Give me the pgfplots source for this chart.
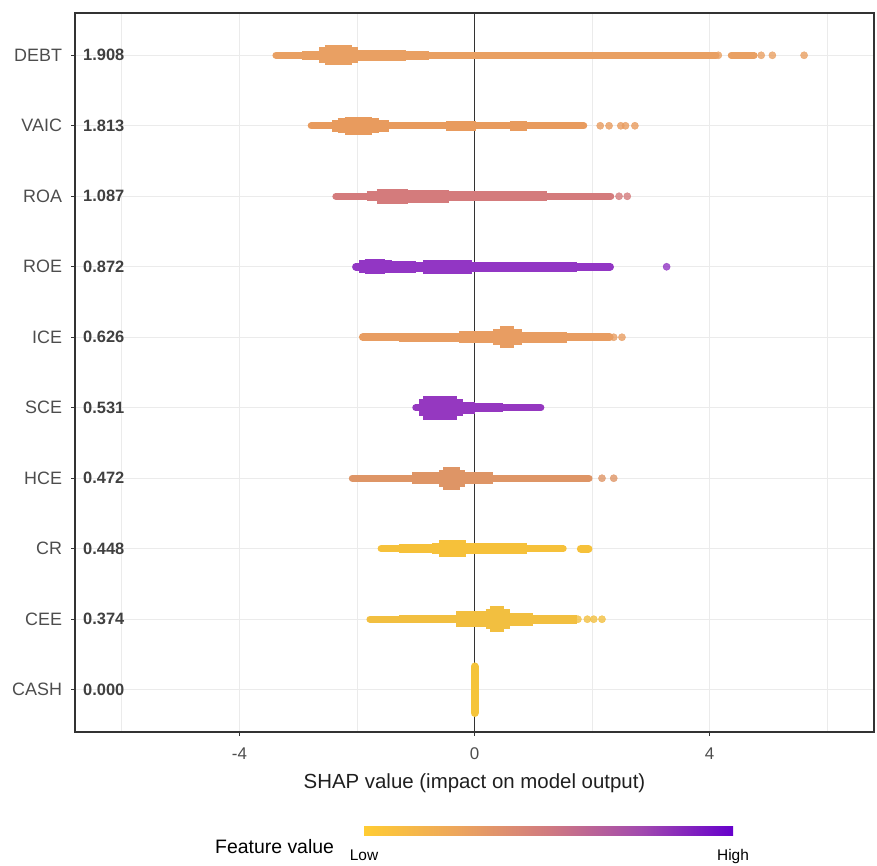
\documentclass[border=0pt]{standalone}
\usepackage{pgfplots}
\pgfplotsset{compat=1.18}
\usepackage{fontspec}
\setmainfont{Liberation Sans}

\definecolor{cDEBT}{HTML}{E9A063}
\definecolor{cVAIC}{HTML}{E89B5E}
\definecolor{cROA}{HTML}{D47B7C}
\definecolor{cROE}{HTML}{9236C4}
\definecolor{cICE}{HTML}{E89D62}
\definecolor{cSCE}{HTML}{9538C0}
\definecolor{cHCE}{HTML}{DE9566}
\definecolor{cCR}{HTML}{F6C13A}
\definecolor{cCEE}{HTML}{F2BF40}
\definecolor{cCASH}{HTML}{F5C43A}
\definecolor{txt}{HTML}{4D4D4D}
\definecolor{txtb}{HTML}{404040}
\definecolor{gridc}{HTML}{EBEBEB}
\definecolor{framec}{HTML}{333333}
\definecolor{lowc}{HTML}{FFCC33}
\definecolor{q1c}{HTML}{EDA65C}
\definecolor{midc}{HTML}{D07A80}
\definecolor{q3c}{HTML}{A24AAE}
\definecolor{highc}{HTML}{6600CC}

% visible part of a TikZ shading is 25bp..75bp
\pgfdeclarehorizontalshading{shapbar}{100bp}{color(0bp)=(lowc); color(25bp)=(lowc); color(37.5bp)=(q1c); color(50bp)=(midc); color(62.5bp)=(q3c); color(75bp)=(highc); color(100bp)=(highc)}

% \band{color}{y}{x1}{x2}{width}: round caps ; \blob: butt caps
\newcommand{\band}[5]{\addplot[draw=#1, line width=#5bp, line cap=round, forget plot] coordinates {(#3,#2) (#4,#2)};}
\newcommand{\blob}[5]{\addplot[draw=#1, line width=#5bp, line cap=butt, forget plot] coordinates {(#3,#2) (#4,#2)};}
\newcommand{\pts}[2]{\addplot[only marks, mark=*, mark size=3.6bp, mark options={draw=#1, fill=#1, opacity=0.8}, forget plot] coordinates {#2};}

\begin{document}
\begin{tikzpicture}
\useasboundingbox (-75bp,-134bp) rectangle (802bp,732bp);
\begin{axis}[
  at={(0,0)}, anchor=south west, scale only axis,
  width=799bp, height=719bp,
  xmin=-6.8, xmax=6.8, ymin=0.4, ymax=10.6,
  axis line style={draw=framec, line width=1.1bp},
  xtick={-4,0,4}, xticklabels={-4,0,4},
  minor xtick={-6,-2,2,6},
  ytick={1,...,10},
  yticklabels={CASH,CEE,CR,HCE,SCE,ICE,ROE,ROA,VAIC,DEBT},
  grid=both,
  major grid style={draw=gridc, line width=1bp},
  minor grid style={draw=gridc, line width=1bp},
  tick align=outside, tick pos=left,
  major tick length=3.5bp, minor tick length=0pt,
  tick style={draw=framec, line width=1bp},
  xticklabel style={font=\fontsize{17}{20}\selectfont, text=txt, yshift=-9bp},
  yticklabel style={font=\fontsize{18}{21}\selectfont, text=txt, xshift=-6bp},
  xlabel={SHAP value (impact on model output)},
  xlabel style={font=\fontsize{20.5}{24}\selectfont, text=black!88, at={(axis description cs:0.5,0)}, anchor=center, yshift=-51bp},
]
% zero line
\addplot[draw=black!80, line width=1.2bp, forget plot] coordinates {(0,0.4) (0,10.6)};

% DEBT
\band{cDEBT}{10}{-3.38}{4.11}{7}
\blob{cDEBT}{10}{-2.93}{-2.55}{9}
\blob{cDEBT}{10}{-2.64}{-1.99}{16}
\blob{cDEBT}{10}{-2.54}{-2.08}{20}
\blob{cDEBT}{10}{-1.99}{-1.16}{11}
\blob{cDEBT}{10}{-1.16}{-0.77}{9}
\band{cDEBT}{10}{4.37}{4.76}{7}
\pts{cDEBT}{(4.15,10) (4.88,10) (5.07,10) (5.61,10)}

% VAIC
\band{cVAIC}{9}{-2.78}{1.86}{7}
\blob{cVAIC}{9}{-2.42}{-1.45}{12}
\blob{cVAIC}{9}{-2.33}{-1.62}{15}
\blob{cVAIC}{9}{-2.21}{-1.75}{18}
\blob{cVAIC}{9}{-0.48}{0.03}{10}
\blob{cVAIC}{9}{0.60}{0.89}{9.5}
\pts{cVAIC}{(2.14,9) (2.29,9) (2.49,9) (2.57,9) (2.73,9)}

% ROA
\band{cROA}{8}{-2.36}{2.32}{7}
\blob{cROA}{8}{-1.83}{-1.66}{10}
\blob{cROA}{8}{-1.66}{-1.14}{15}
\blob{cROA}{8}{-1.14}{-0.43}{12.5}
\blob{cROA}{8}{-0.43}{1.23}{10}
\pts{cROA}{(2.46,8) (2.60,8)}

% ROE
\band{cROE}{7}{-2.02}{2.31}{7.5}
\blob{cROE}{7}{-1.96}{-1.41}{13}
\blob{cROE}{7}{-1.87}{-1.52}{15}
\blob{cROE}{7}{-1.48}{-0.99}{11.5}
\blob{cROE}{7}{-0.99}{-0.87}{10}
\blob{cROE}{7}{-0.87}{-0.05}{13.5}
\blob{cROE}{7}{-0.05}{1.74}{9.5}
\pts{cROE}{(3.27,7)}

% ICE
\band{cICE}{6}{-1.90}{2.30}{8}
\blob{cICE}{6}{-1.28}{-0.26}{9.5}
\blob{cICE}{6}{-0.26}{0.39}{12}
\blob{cICE}{6}{0.32}{0.80}{16}
\blob{cICE}{6}{0.43}{0.68}{22}
\blob{cICE}{6}{0.80}{1.57}{11}
\pts{cICE}{(2.37,6) (2.51,6)}

% SCE
\band{cSCE}{5}{-1.00}{1.13}{7}
\blob{cSCE}{5}{-0.94}{-0.19}{17}
\blob{cSCE}{5}{-0.87}{-0.29}{24}
\blob{cSCE}{5}{-0.19}{0.0}{12}
\blob{cSCE}{5}{0.0}{0.48}{9}

% HCE
\band{cHCE}{4}{-2.08}{1.95}{7}
\blob{cHCE}{4}{-1.06}{-0.51}{12.5}
\blob{cHCE}{4}{-0.60}{-0.17}{17}
\blob{cHCE}{4}{-0.53}{-0.24}{23}
\blob{cHCE}{4}{-0.17}{0.31}{12.5}
\pts{cHCE}{(2.17,4) (2.37,4)}

% CR
\band{cCR}{3}{-1.59}{1.51}{7}
\blob{cCR}{3}{-1.28}{-0.60}{9}
\blob{cCR}{3}{-0.72}{-0.51}{11}
\blob{cCR}{3}{-0.60}{-0.14}{17}
\blob{cCR}{3}{-0.14}{0.89}{10.5}
\band{cCR}{3}{1.81}{1.94}{8}

% CEE
\band{cCEE}{2}{-1.78}{1.68}{7}
\blob{cCEE}{2}{-1.28}{-0.31}{8.5}
\blob{cCEE}{2}{-0.31}{0.20}{16}
\blob{cCEE}{2}{0.19}{0.60}{20}
\blob{cCEE}{2}{0.26}{0.51}{26}
\blob{cCEE}{2}{0.51}{0.99}{13}
\blob{cCEE}{2}{0.99}{1.74}{9}
\pts{cCEE}{(1.76,2) (1.92,2) (2.03,2) (2.17,2)}

% CASH
\addplot[draw=cCASH, line width=8bp, line cap=round, forget plot] coordinates {(0,0.67) (0,1.33)};

% importance values
\foreach \yy/\vv in {10/1.908, 9/1.813, 8/1.087, 7/0.872, 6/0.626, 5/0.531, 4/0.472, 3/0.448, 2/0.374, 1/0.000}{
  \edef\temp{\noexpand\node[anchor=west, inner sep=0pt, xshift=8bp, text=txtb, font=\noexpand\bfseries\noexpand\fontsize{16.5}{19}\noexpand\selectfont] at (axis cs:-6.8,\yy) {\vv};}
  \temp
}
\end{axis}
% colour bar legend
\shade[shading=shapbar] (289bp,-103.5bp) rectangle (658bp,-94.5bp);
\node[anchor=base west, inner sep=0pt, font=\fontsize{19.5}{22}\selectfont] at (140bp,-121bp) {Feature value};
\node[anchor=base, inner sep=0pt, font=\fontsize{15.5}{18}\selectfont] at (289bp,-128bp) {Low};
\node[anchor=base, inner sep=0pt, font=\fontsize{15.5}{18}\selectfont] at (658bp,-128bp) {High};
\end{tikzpicture}
\end{document}
